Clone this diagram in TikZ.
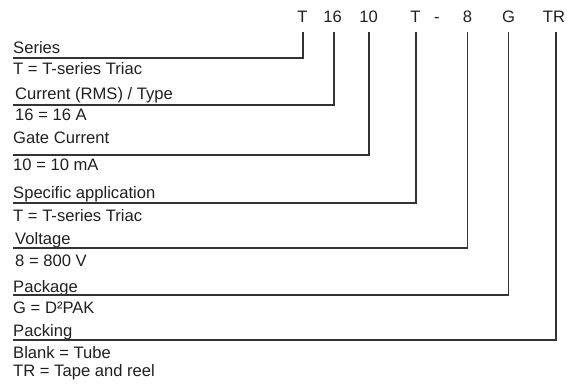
\documentclass[tikz,border=0pt]{standalone}
\usepackage{fontspec}
\setmainfont{Liberation Sans}
\definecolor{ink}{HTML}{231F20}
\definecolor{wire}{HTML}{333333}
\begin{document}
\begin{tikzpicture}[x=1pt,y=-1pt,
  txt/.style={inner sep=0pt,anchor=base west,text=ink,font=\fontsize{16.6}{19}\selectfont},
  code/.style={inner sep=0pt,anchor=base,text=ink,font=\fontsize{16.6}{19}\selectfont},
  wireline/.style={draw=wire,line width=1.2pt,shorten <=9pt}]
\useasboundingbox (0,0) rectangle (567,387);
% code letters
\node[code] (c1) at (302.5,23) {T};
\node[code] (c2) at (332.5,23) {16};
\node[code] (c3) at (368.5,23) {10};
\node[code] (c4) at (415.5,23) {T};
\node[code] (c5) at (437,23) {-};
\node[code] (c6) at (467.5,23) {8};
\node[code] (c7) at (508.5,23) {G};
\node[code] (c8) at (554,23) {TR};
% line ends
\coordinate (e1) at (13,58);
\coordinate (e2) at (13,105);
\coordinate (e3) at (13,155);
\coordinate (e4) at (13,203);
\coordinate (e6) at (13,248);
\coordinate (e7) at (13,295);
\coordinate (e8) at (13,340);
% texts
\node[txt] (s1) at (13,54) {Series};
\node[txt] (d1) at (13,75) {T = T-series Triac};
\node[txt] (s2) at (15,100) {Current (RMS) / Type};
\node[txt] (d2) at (15,121) {16 = 16 A};
\node[txt] (s3) at (13,144) {Gate Current};
\node[txt] (d3) at (13,171) {10 = 10 mA};
\node[txt] (s4) at (13,199) {Specific application};
\node[txt] (d4) at (13,222) {T = T-series Triac};
\node[txt] (s6) at (15,244) {Voltage};
\node[txt] (d6) at (15,266) {8 = 800 V};
\node[txt] (s7) at (13,292) {Package};
\node[txt] (d7) at (13,313) {G = D²PAK};
\node[txt] (s8) at (13,336) {Packing};
\node[txt] (d8a) at (13,358) {Blank = Tube};
\node[txt] (d8b) at (13,376) {TR = Tape and reel};
% connectors
\draw[wireline] ([xshift=0.5pt]c1.south) |- (e1);
\draw[wireline] ([xshift=1.5pt]c2.south) |- (e2);
\draw[wireline] ([xshift=0.5pt]c3.south) |- (e3);
\draw[wireline] ([xshift=0.5pt]c4.south) |- (e4);
\draw[wireline] (c6.south) |- (e6);
\draw[wireline] (c7.south) |- (e7);
\draw[wireline] ([xshift=2pt]c8.south) |- (e8);
\end{tikzpicture}
\end{document}
